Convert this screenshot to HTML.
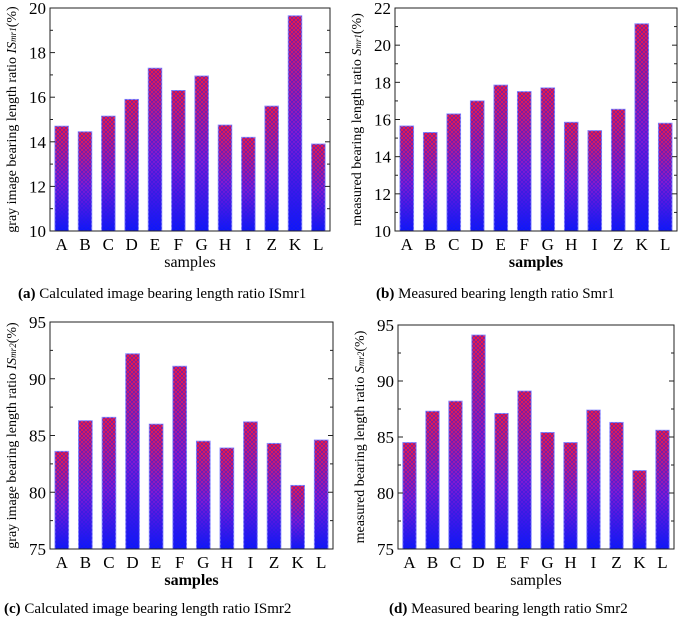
<!DOCTYPE html>
<html><head><meta charset="utf-8"><style>
body{margin:0;background:#fff;}
svg{display:block;font-family:"Liberation Serif",serif;}
</style></head><body>
<svg id="s" width="685" height="622">
<defs>
<linearGradient id="g" x1="0" y1="0" x2="0" y2="1">
<stop offset="0" stop-color="#ff1a3a"/><stop offset="0.55" stop-color="#8a1ad0"/><stop offset="1" stop-color="#0a14ff"/></linearGradient>
<pattern id="p" width="4" height="4" patternUnits="userSpaceOnUse">
<path d="M0 2L2 0L4 2L2 4Z" fill="none" stroke="#2020e0" stroke-width="0.7" opacity="0.7"/></pattern>
</defs>
</svg>
<script>
const cats=["A","B","C","D","E","F","G","H","I","Z","K","L"];
const valsA=[14.7,14.45,15.15,15.9,17.3,16.3,16.95,14.75,14.2,15.6,19.65,13.9];
const valsB=[15.65,15.3,16.3,17.0,17.85,17.5,17.7,15.85,15.4,16.55,21.15,15.8];
const valsC=[83.6,86.3,86.6,92.2,86.0,91.1,84.5,83.9,86.2,84.3,80.6,84.6];
const valsD=[84.5,87.3,88.2,94.1,87.1,89.1,85.4,84.5,87.4,86.3,82.0,85.6];
const ticksA=[10,12,14,16,18,20];
const ticksB=[10,12,14,16,18,20,22];
const ticksCD=[75,80,85,90,95];
const NS="http://www.w3.org/2000/svg",S=document.getElementById('s');
function el(t,a,p){const e=document.createElementNS(NS,t);for(const k in a)e.setAttribute(k,a[k]);(p||S).appendChild(e);return e;}
function panel(id,L,T,R,B,vals,ticks,minor,ylab,sub,xbold,cap,capT,capY,capX){
 const g=el('g',{});
 
 
 const lo=ticks[0],hi=ticks[ticks.length-1];
 const y=v=>B-(v-lo)/(hi-lo)*(B-T);
 const pitch=(R-L)/12,bw=pitch*0.58;
 vals.forEach((v,i)=>{
  const x=L+pitch*(i+0.5)-bw/2;
  const r=el('rect',{x:x,y:y(v),width:bw,height:B-y(v),fill:'url(#g)',stroke:'#8f8fff','stroke-width':1},g);
  
  
  const r2=el('rect',{x:x,y:y(v),width:bw,height:B-y(v),fill:'url(#p)'},g);
  
  
  const t=el('text',{x:L+pitch*(i+0.5),y:B+19,'font-size':17,'text-anchor':'middle'},g);t.textContent=cats[i];
  
  
 });
 const fr=el('rect',{x:L,y:T,width:R-L,height:B-T,fill:'none',stroke:'#222','stroke-width':1},g);
 
 
 ticks.forEach(v=>{
  el('line',{x1:L,x2:L+5,y1:y(v),y2:y(v),stroke:'#222'},g);
  el('line',{x1:R,x2:R-5,y1:y(v),y2:y(v),stroke:'#222'},g);
  const t=el('text',{x:L-4,y:y(v)+6,'font-size':17,'text-anchor':'end'},g);t.textContent=v;
  
  
 });
 for(let v=lo+minor;v<hi;v+=minor*2){el('line',{x1:L,x2:L+3,y1:y(v),y2:y(v),stroke:'#222'},g);el('line',{x1:R,x2:R-3,y1:y(v),y2:y(v),stroke:'#222'},g);}
 const yl=el('text',{transform:`translate(${L-34},${(T+B)/2}) rotate(-90)`,'font-size':14,'text-anchor':'middle'},g);
 yl.innerHTML=ylab+'<tspan font-style="italic">'+sub[0]+'</tspan><tspan font-size="9" font-style="italic">'+sub[1]+'</tspan>(%)';
 
 
 const xl=el('text',{x:(L+R)/2,y:B+36,'font-size':16,'text-anchor':'middle','font-weight':xbold?'bold':'normal'},g);xl.textContent='samples';
 
 
 const c=el('text',{x:capX,y:capY,'font-size':15},g);
 c.innerHTML='<tspan font-weight="bold">'+cap+'</tspan> '+capT;
 
 
}
panel('a',50,8,330,231,valsA,ticksA,1,'gray image bearing length ratio ',['IS','mr1'],false,'(a)','Calculated image bearing length ratio ISmr1',298,18);
panel('b',395,8,677,231,valsB,ticksB,1,'measured bearing length ratio ',['S','mr1'],true,'(b)','Measured bearing length ratio Smr1',298,376);
panel('c',50,322,333,549,valsC,ticksCD,2.5,'gray image bearing length ratio ',['IS','mr2'],true,'(c)','Calculated image bearing length ratio ISmr2',613,4);
panel('d',398,325,674,549,valsD,ticksCD,2.5,'measured bearing length ratio ',['S','mr2'],false,'(d)','Measured bearing length ratio Smr2',613,389);
</script>
</body></html>
